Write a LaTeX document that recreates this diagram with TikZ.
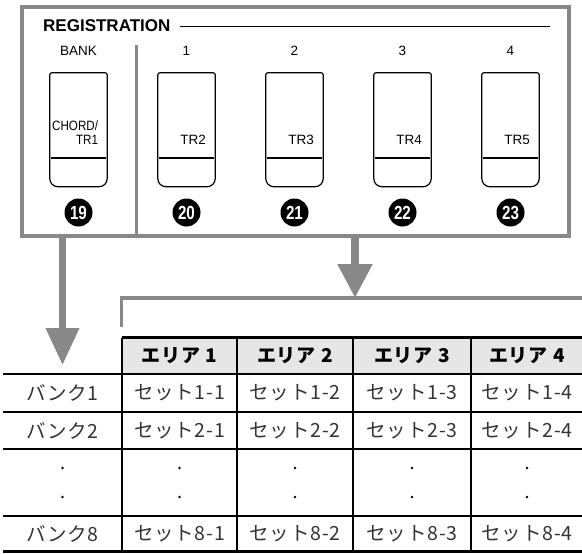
\documentclass[tikz,border=0pt]{standalone}
\usepackage{fontspec}
\setmainfont{Liberation Sans}
\newfontfamily\jpfont[LetterSpace=4]{Noto Sans CJK JP}
\newfontfamily\numfont[FakeStretch=0.8]{Liberation Sans}
\newfontfamily\narrowfont[FakeStretch=0.86]{Liberation Sans}
\usetikzlibrary{arrows.meta, positioning}

\definecolor{framegray}{HTML}{888888}
\definecolor{headgray}{HTML}{E6E6E6}

\begin{document}
\begin{tikzpicture}[x=1pt, y=-1pt,
    panel/.style={draw=framegray, line width=4pt},
    divider/.style={draw=framegray, line width=3pt},
    bigarrow/.style={draw=framegray, line width=7pt, -{Triangle[length=37pt, width=32pt]}},
    keybody/.style={minimum width=57pt, minimum height=113.5pt, inner sep=0pt},
    keyline/.style={draw, line width=1.2pt},
    keysep/.style={draw, line width=1.8pt},
    keytxt/.style={anchor=south east, inner sep=0pt, align=right, font=\fontsize{13.5}{14}\selectfont},
    toptxt/.style={font=\fontsize{13.5}{14}\selectfont},
    badge/.style={circle, fill=black, minimum size=28pt, inner sep=0pt, text=white, font=\numfont\bfseries\fontsize{19}{19}\selectfont},
    rowline/.style={draw, line width=1.3pt},
    thickrule/.style={draw, line width=3pt},
    headtxt/.style={font=\jpfont\bfseries\fontsize{19}{20}\selectfont},
    celltxt/.style={text=black!80, font=\jpfont\fontsize{19.5}{20}\selectfont}
]
\useasboundingbox (0,0) rectangle (582,554);

% panel
\draw[panel] (21.5,6.5) rectangle (568.5,235.5);
\node[anchor=west, inner sep=0pt, font=\bfseries\fontsize{17}{17}\selectfont] (reg) at (43,26) {REGISTRATION};
\coordinate (regend) at (550,25);
\draw[line width=1pt] ([xshift=9pt]reg.east) -- (reg.east -| regend);
\coordinate (divtop) at (136,45);
\coordinate (divfoot) at (136,235.5);
\draw[divider] (divtop) -- (divfoot);

% buttons
\foreach \i/\lab/\num/\tr in {0/BANK/19/{\narrowfont CHORD/\\\narrowfont TR1}, 1/1/20/TR2, 2/2/21/TR3, 3/3/22/TR4, 4/4/23/TR5} {
    \node[keybody] (key\i) at (78.5+108*\i, 129.75) {};
    \draw[keyline, rounded corners=8pt] (key\i.west) -- (key\i.south west) -- (key\i.south east) -- (key\i.east);
    \draw[keyline, rounded corners=2pt] (key\i.west) -- (key\i.north west) -- (key\i.north east) -- (key\i.east);
    \draw[keysep] ([xshift=1.5pt, yshift=-28.3pt]key\i.west) -- ([xshift=-1.5pt, yshift=-28.3pt]key\i.east);
    \node[keytxt] (tr\i) at ([xshift=-9pt, yshift=-15.25pt]key\i.east) {\tr};
    \node[toptxt] (lab\i) at (78.5+108*\i, 51) {\lab};
    \node[badge] (c\i) at (78.5+108*\i, 212.5) {\num};
}

% arrows
\coordinate (bankfoot) at (62.5,237);
\coordinate (banktip) at (62.5,365);
\draw[bigarrow] (bankfoot) -- (banktip);
\coordinate (setfoot) at (355,237);
\coordinate (settip) at (355,298);
\draw[bigarrow, line width=8pt, -{Triangle[length=34pt, width=33pt]}] (setfoot) -- (settip);
\coordinate (brleft) at (121.5,327);
\coordinate (brcorner) at (121.5,298);
\coordinate (brright) at (582,298);
\draw[draw=framegray, line width=3.5pt] (brleft) -- (brcorner) -- (brright);

% table
\fill[headgray] (122,339) rectangle (582,374);
\foreach \y in {374,412,449,516}
    \draw[rowline] (3,\y) -- (582,\y);
\draw[thickrule] (122,337.5) -- (582,337.5);
\draw[thickrule] (3,551.5) -- (582,551.5);
\foreach \x in {122,237,353,471}
    \draw[rowline] (\x,337.5) -- (\x,551.5);

\foreach \c/\x in {1/179.5, 2/295, 3/412, 4/527}
    \node[headtxt] (area\c) at (\x,356) {エリア\hspace{0.3em}\c};
\foreach \r/\y in {1/393, 2/430.5, 8/534} {
    \node[celltxt] (bank\r) at (62.5,\y) {バンク\r};
    \foreach \c/\x in {1/179.5, 2/295, 3/412, 4/527}
        \node[celltxt] (set\r\c) at (\x,\y) {セット\r-\c};
}
\foreach \x in {62.5, 179.5, 295, 412, 527} {
    \fill (\x,468) circle (1.3);
    \fill (\x,497) circle (1.3);
}
\end{tikzpicture}
\end{document}
